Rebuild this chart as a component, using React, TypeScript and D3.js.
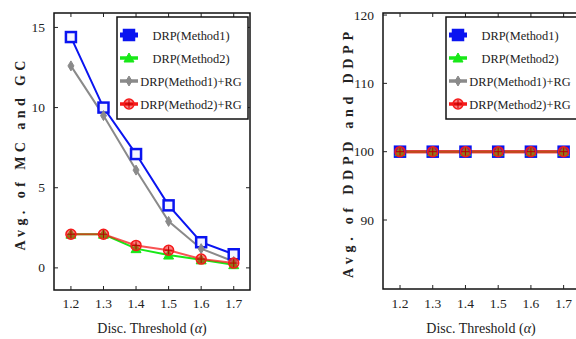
import * as d3 from 'd3';

const thresholds = [1.2, 1.3, 1.4, 1.5, 1.6, 1.7];
const seriesNames = ['DRP(Method1)', 'DRP(Method2)', 'DRP(Method1)+RG', 'DRP(Method2)+RG'];

// left panel: Avg. of MC and GC
const mcM1 = [14.4, 10.0, 7.1, 3.9, 1.6, 0.85];
const mcM2 = [2.1, 2.1, 1.2, 0.8, 0.5, 0.2];
const mcM1RG = [12.6, 9.5, 6.1, 2.9, 1.2, 0.4];
const mcM2RG = [2.1, 2.1, 1.4, 1.1, 0.55, 0.3];
const mcTicks = [0, 5, 10, 15];

// right panel: Avg. of DDPD and DDPP
const ddM1 = [100, 100, 100, 100, 100, 100];
const ddM2 = [100, 100, 100, 100, 100, 100];
const ddM1RG = [100, 100, 100, 100, 100, 100];
const ddM2RG = [100, 100, 100, 100, 100, 100];
const ddTicks = [90, 100, 110, 120];

const colors = ['#0a14f0', '#18e818', '#8a8a8a', '#f51a1a'];
const font = "'Liberation Serif', 'DejaVu Serif', serif";

type MarkerProps = { kind: number; x: number; y: number; fill?: string };

function Marker({ kind, x, y, fill }: MarkerProps) {
  const c = colors[kind];
  if (kind === 0) {
    return <rect x={x - 5} y={y - 5} width={10} height={10} fill={fill || '#eef'} stroke={c} strokeWidth={2.5} />;
  }
  if (kind === 1) {
    return <path d={`M${x},${y - 5}L${x + 5},${y + 4}L${x - 5},${y + 4}Z`} fill={c} stroke={c} strokeWidth={1} />;
  }
  if (kind === 2) {
    return <path d={`M${x},${y - 5}L${x + 3},${y}L${x},${y + 5}L${x - 3},${y}Z`} fill={c} stroke={c} strokeWidth={1} />;
  }
  return (
    <g>
      <circle cx={x} cy={y} r={5} fill={c} fillOpacity={0.55} stroke={c} strokeWidth={1.5} />
      <path d={`M${x - 4},${y}H${x + 4}M${x},${y - 4}V${y + 4}`} stroke="#b00" strokeWidth={1} />
    </g>
  );
}

type PanelProps = {
  left: number;
  right: number;
  top: number;
  bottom: number;
  yDomain: [number, number];
  yTicks: number[];
  series: number[][];
  yLabel: string;
  yLabelX: number;
  yLabelLen: number;
  legendX: number;
  squareFill: string;
  redWidth: number;
};

function Panel(p: PanelProps) {
  const x = d3.scaleLinear().domain([1.148, 1.75]).range([p.left, p.right]);
  const y = d3.scaleLinear().domain(p.yDomain).range([p.bottom, p.top]);
  const line = d3.line<number>().x((_, i) => x(thresholds[i])).y((d) => y(d));
  const drawOrder = [0, 2, 1, 3];
  const legendRows = [35, 58, 81, 104];
  const lw = 131;
  return (
    <g style={{ fontFamily: font }}>
      {/* frame */}
      <rect x={p.left} y={p.top} width={p.right - p.left} height={p.bottom - p.top} fill="none" stroke="#111" strokeWidth={1.5} />
      {p.yTicks.map((t) => (
        <g key={`y${t}`}>
          <line x1={p.left} x2={p.left + 4} y1={y(t)} y2={y(t)} stroke="#222" />
          <line x1={p.right - 4} x2={p.right} y1={y(t)} y2={y(t)} stroke="#222" />
          <text x={p.left - 9} y={y(t) + 4.5} textAnchor="end" fontSize={13.5} fill="#222">
            {t}
          </text>
        </g>
      ))}
      {thresholds.map((t) => (
        <g key={`x${t}`}>
          <line x1={x(t)} x2={x(t)} y1={p.bottom} y2={p.bottom - 4} stroke="#222" />
          <line x1={x(t)} x2={x(t)} y1={p.top} y2={p.top + 4} stroke="#222" />
          <text x={x(t)} y={308} textAnchor="middle" fontSize={13.5} fill="#222">
            {t.toFixed(1)}
          </text>
        </g>
      ))}
      <text x={p.left + 98} y={333} textAnchor="middle" fontSize={14} fill="#222">
        Disc. Threshold (<tspan fontStyle="italic">α</tspan>)
      </text>
      <text
        transform={`translate(${p.yLabelX},${p.top + (p.bottom - p.top) / 2 + 4}) rotate(-90)`}
        textAnchor="middle"
        fontSize={14}
        fontWeight="bold"
        fill="#222"
        textLength={p.yLabelLen}
        lengthAdjust="spacing"
      >
        {p.yLabel}
      </text>
      {/* series */}
      {drawOrder.map((k) => (
        <path
          key={`l${k}`}
          d={line(p.series[k]) || ''}
          fill="none"
          stroke={colors[k]}
          strokeWidth={k === 3 ? p.redWidth : 2}
          strokeOpacity={k === 3 ? 0.75 : 1}
        />
      ))}
      {drawOrder.map((k) =>
        p.series[k].map((v, i) => (
          <Marker key={`m${k}-${i}`} kind={k} x={x(thresholds[i])} y={y(v)} fill={p.squareFill} />
        ))
      )}
      {/* legend */}
      <rect x={p.legendX} y={17} width={lw} height={102} fill="#fff" stroke="#111" strokeWidth={1.5} />
      {seriesNames.map((name, k) => (
        <g key={`lg${k}`}>
          <line
            x1={p.legendX + 3}
            x2={p.legendX + 21}
            y1={legendRows[k]}
            y2={legendRows[k]}
            stroke={colors[k]}
            strokeWidth={k === 0 ? 5 : 3.5}
          />
          <Marker kind={k} x={p.legendX + 12} y={legendRows[k]} fill={colors[0]} />
          <text x={p.legendX + 74} y={legendRows[k] + 4.5} textAnchor="middle" fontSize={12.4} fill="#222">
            {name}
          </text>
        </g>
      ))}
    </g>
  );
}

export default function App() {
  return (
    <svg
      width={576}
      height={339}
      style={{ position: 'absolute', left: 0, top: 0, background: '#fff' }}
    >
      <rect width={576} height={339} fill="#fff" />
      <Panel
        left={54}
        right={250}
        top={13}
        bottom={290}
        yDomain={[-1.38, 15.9]}
        yTicks={mcTicks}
        series={[mcM1, mcM2, mcM1RG, mcM2RG]}
        yLabel="Avg. of MC and GC"
        yLabelX={25}
        yLabelLen={190}
        legendX={117}
        squareFill="#f4f4ff"
        redWidth={2}
      />
      <Panel
        left={383}
        right={580}
        top={13}
        bottom={289}
        yDomain={[79.9, 120.3]}
        yTicks={ddTicks}
        series={[ddM1, ddM2, ddM1RG, ddM2RG]}
        yLabel="Avg. of DDPD and DDPP"
        yLabelX={353}
        yLabelLen={246}
        legendX={446}
        squareFill={colors[0]}
        redWidth={3.5}
      />
    </svg>
  );
}
